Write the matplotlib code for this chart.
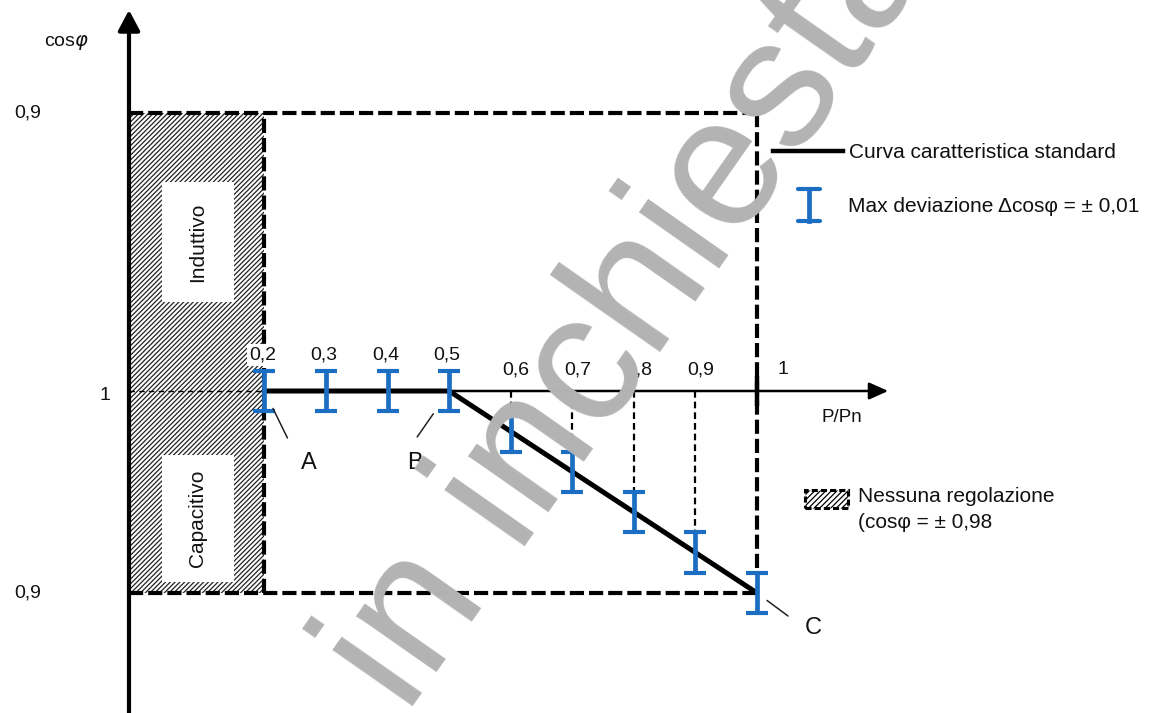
import numpy as np
import matplotlib
matplotlib.use("Agg")
import matplotlib.pyplot as plt
from matplotlib.patches import Rectangle
from matplotlib.lines import Line2D

plt.rcParams["font.family"] = ["Liberation Sans", "DejaVu Sans"]
plt.rcParams["hatch.linewidth"] = 0.9

# P/Pn operating points and their labels
P_POINTS = [0.2, 0.3, 0.4, 0.5, 0.6, 0.7, 0.8, 0.9, 1.0]
P_LABELS = ["0,2", "0,3", "0,4", "0,5", "0,6", "0,7", "0,8", "0,9", "1"]
# standard characteristic cos(phi); values below 1 are on the capacitive side
COS_PHI = [1.0, 1.0, 1.0, 1.0, 0.98, 0.96, 0.94, 0.92, 0.90]
DEV = 0.01          # max deviation of cos(phi)
COS_LIMIT = 0.9     # band limit, both inductive and capacitive
P_NO_REG = 0.2      # no regulation below this power
Y_LABELS = ["0,9", "1", "0,9"]

BLUE = "#1b6ec2"
W, H = 1151, 713

# vertical coordinate: capacitive cos(phi) as is, inductive cos(phi) as 2 - cos(phi)
IND_LIMIT = 2 - COS_LIMIT
BRK, K = 1.02, 1.47


def fwd(v):
    v = np.asarray(v, float)
    return np.where(v <= BRK, v, BRK + (v - BRK) * K)


def inv(u):
    u = np.asarray(u, float)
    return np.where(u <= BRK, u, BRK + (u - BRK) / K)


def fp(x, y):
    """pixel position (from top-left) -> figure fraction"""
    return x / W, 1 - y / H


fig = plt.figure(figsize=(W / 100, H / 100), dpi=100)
ax = fig.add_axes([0, 0, 1, 1])
ax.set_yscale("function", functions=(fwd, inv))
ax.set_xlim(-0.2295, 1.6399)
ax.set_ylim(0.84059, 1.13807)
ax.axis("off")

X_AX = -0.02          # where the cos(phi) axis is drawn
X_TIP = 1.213         # tip of the P/Pn arrow

# no-regulation zone
ax.add_patch(Rectangle((X_AX, COS_LIMIT), P_NO_REG - X_AX, IND_LIMIT - COS_LIMIT,
                       facecolor="white", edgecolor="#222222", hatch="///////",
                       lw=0, zorder=1))
for (x0, y0, x1, y1), txt in [((162, 182, 234, 302), "Induttivo"),
                               ((162, 455, 234, 582), "Capacitivo")]:
    fx0, fy1 = fp(x0, y0)
    fx1, fy0 = fp(x1, y1)
    fig.patches.append(Rectangle((fx0, fy0), fx1 - fx0, fy1 - fy0,
                                 transform=fig.transFigure, facecolor="white",
                                 edgecolor="none", zorder=2))
    fig.text((fx0 + fx1) / 2, (fy0 + fy1) / 2, txt, rotation=90, ha="center",
             va="center", fontsize=15, color="#111111", zorder=3)

# dashed band boundaries
band = dict(color="black", lw=3, dashes=(3.4, 1.2), zorder=3)
ax.plot([X_AX, 1.0], [IND_LIMIT, IND_LIMIT], **band)
ax.plot([X_AX, 1.0], [COS_LIMIT, COS_LIMIT], **band)
ax.plot([P_NO_REG, P_NO_REG], [COS_LIMIT, IND_LIMIT], **band)
ax.plot([1.0, 1.0], [IND_LIMIT, COS_PHI[-1] + DEV], **band)
ax.plot([X_AX, P_NO_REG], [1.0, 1.0], color="black", lw=1.0, dashes=(4, 3), zorder=3)

# drop lines from the P/Pn axis to the curve
for p, c in zip(P_POINTS, COS_PHI):
    if c < 1.0 and p < 1.0:
        ax.plot([p, p], [1.0, c + DEV], color="black", lw=1.6, dashes=(3, 1.8), zorder=3)

# axes with arrows
ax.annotate("", xy=(X_TIP, 1.0), xytext=(P_NO_REG, 1.0),
            arrowprops=dict(arrowstyle="-|>,head_length=0.58,head_width=0.26",
                            mutation_scale=20, lw=1.8, color="black",
                            shrinkA=0, shrinkB=0), zorder=4)
ax.annotate("", xy=(X_AX, 0.986), xycoords=("data", "axes fraction"),
            xytext=(X_AX, 0.0), textcoords=("data", "axes fraction"),
            arrowprops=dict(arrowstyle="-|>,head_length=0.62,head_width=0.33",
                            mutation_scale=20, lw=3, color="black",
                            shrinkA=0, shrinkB=0), zorder=4)
ax.plot([1.0], [1.0], marker="|", ms=22, mew=3.2, color="black", zorder=4)

# standard characteristic curve and tolerance bars
ax.plot(P_POINTS, COS_PHI, color="black", lw=3.6, solid_capstyle="butt", zorder=5)
ax.errorbar(P_POINTS, COS_PHI, yerr=DEV, fmt="none", ecolor=BLUE,
            elinewidth=3.4, capsize=8, capthick=3, zorder=6)

# P/Pn labels above the axis
for p, lbl in zip(P_POINTS, P_LABELS):
    if p <= 0.5:
        dx, dy, ha = -2, 36, "center"
    elif p < 1.0:
        dx, dy, ha = 5, 21, "center"
    else:
        dx, dy, ha = 20, 21, "left"
    bbox = dict(fc="white", ec="none", pad=1.5) if p == P_NO_REG else None
    ax.annotate(lbl, xy=(p, 1.0), xytext=(dx, dy), textcoords="offset pixels",
                ha=ha, va="center", fontsize=14, color="#111111", bbox=bbox, zorder=7)

# cos(phi) labels
for v, lbl, dx in [(IND_LIMIT, Y_LABELS[0], -101), (1.0, Y_LABELS[1], -24),
                   (COS_LIMIT, Y_LABELS[2], -101)]:
    dy = -5 if v == 1.0 else 0
    ax.annotate(lbl, xy=(X_AX, v), xytext=(dx, dy), textcoords="offset pixels",
                ha="center", va="center", fontsize=14, color="#111111")

fig.text(*fp(66, 42), r"cos$\varphi$", ha="center", va="center", fontsize=14, color="#111111")
fig.text(*fp(842, 418), "P/Pn", ha="center", va="center", fontsize=13.5, color="#111111")

# point markers A, B, C with leader lines
for (p, c), name, lead, gap, lab in [((P_POINTS[0], COS_PHI[0]), "A", (23, -47), 14, (44, -72)),
                                     ((P_POINTS[3], COS_PHI[3]), "B", (-32, -46), 20, (-34, -72)),
                                     ((P_POINTS[-1], COS_PHI[-1]), "C", (31, -23), 9, (56, -35))]:
    ax.annotate("", xy=(p, c), xytext=lead, textcoords="offset pixels",
                arrowprops=dict(arrowstyle="-", lw=1.1, color="#222222",
                                shrinkA=0, shrinkB=gap), zorder=7)
    ax.annotate(name, xy=(p, c), xytext=lab, textcoords="offset pixels",
                ha="center", va="center", fontsize=17, color="#111111")

# legend
fig.lines.append(Line2D([773 / W, 843 / W], [1 - 151 / H] * 2, transform=fig.transFigure,
                        color="black", lw=3.2))
fig.text(*fp(849, 153), "Curva caratteristica standard", ha="left", va="center",
         fontsize=15, color="#111111")
fig.lines.append(Line2D([809 / W] * 2, [1 - 189 / H, 1 - 221 / H], transform=fig.transFigure,
                        color=BLUE, lw=3.4))
for yy in (189, 221):
    fig.lines.append(Line2D([798 / W, 820 / W], [1 - yy / H] * 2, transform=fig.transFigure,
                            color=BLUE, lw=3, solid_capstyle="round"))
fig.text(*fp(848, 207), "Max deviazione \u0394cos\u03c6 = \u00b1 0,01", ha="left", va="center",
         fontsize=15, color="#111111")
lx0, ly1 = fp(805, 490)
lx1, ly0 = fp(848, 508)
fig.patches.append(Rectangle((lx0, ly0), lx1 - lx0, ly1 - ly0, transform=fig.transFigure,
                             facecolor="white", edgecolor="black", hatch="//////",
                             lw=2.2, linestyle=(0, (2, 1))))
fig.text(*fp(858, 497), "Nessuna regolazione", ha="left", va="center", fontsize=15, color="#111111")
fig.text(*fp(858, 523), "(cos\u03c6 = \u00b1 0,98", ha="left", va="center", fontsize=15, color="#111111")

# watermark
fig.text(*fp(632, 310), "in inchiesta", rotation=55, rotation_mode="anchor",
         ha="center", va="center", fontsize=133, color="#b3b3b3", zorder=100)

fig.savefig("out.png", dpi=100, facecolor="white")
